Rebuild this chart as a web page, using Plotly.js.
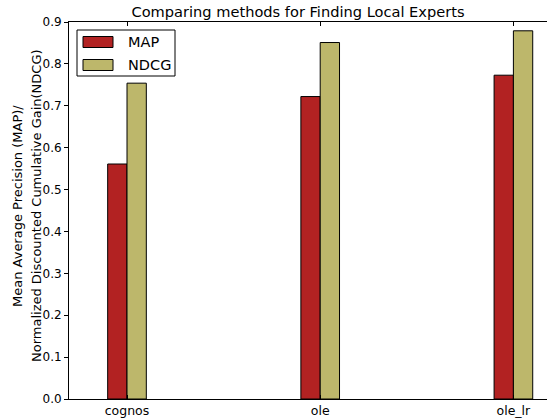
<!DOCTYPE html>
<html>
<head>
<meta charset="utf-8">
<script src="https://cdn.plot.ly/plotly-3.0.1.min.js"></script>
<style>
  html, body { margin: 0; padding: 0; background: #fff; }
  #chart { width: 547px; height: 418px; }
</style>
</head>
<body>
<div id="chart"></div>
<script>
// Methods compared and their scores
const methods = ['cognos', 'ole', 'ole_lr'];
const mapScores = [0.561, 0.722, 0.773];
const ndcgScores = [0.754, 0.851, 0.879];
const seriesNames = ['MAP', 'NDCG'];
const yTicks = [0, 0.1, 0.2, 0.3, 0.4, 0.5, 0.6, 0.7, 0.8, 0.9];
const yTitleLines = ['Mean Average Precision (MAP)/', 'Normalized Discounted Cumulative Gain(NDCG)'];

const colors = ['#b22222', '#bdb76b'];
const W = 547, H = 418;
const M = { l: 69, r: 0, t: 22, b: 19 };
const plotW = W - M.l - M.r, plotH = H - M.t - M.b;
const px = x => (x - M.l) / plotW;          // pixel -> paper x
const py = y => (H - M.b - y) / plotH;       // pixel -> paper y

const idx = methods.map((_, i) => i);
const barW = 0.1;
const font = 'DejaVu Sans, sans-serif';

const traces = [mapScores, ndcgScores].map((vals, k) => ({
  type: 'bar',
  name: seriesNames[k],
  x: idx,
  y: vals,
  width: barW,
  offset: (k - 1) * barW,
  marker: { color: colors[k], line: { color: '#000', width: 1 } },
  showlegend: false,
  hoverinfo: 'x+y'
}));

// Legend box drawn as shapes + labels
const legBox = { x0: 77, x1: 175, y0: 30, y1: 76 };
const rowY = [42, 65];
const shapes = [{
  type: 'rect', xref: 'paper', yref: 'paper',
  x0: px(legBox.x0), x1: px(legBox.x1), y0: py(legBox.y1), y1: py(legBox.y0),
  line: { color: '#000', width: 1 }, fillcolor: '#fff', layer: 'above'
}];
const annotations = [];
seriesNames.forEach((name, k) => {
  shapes.push({
    type: 'rect', xref: 'paper', yref: 'paper',
    x0: px(83), x1: px(113), y0: py(rowY[k] + 5.5), y1: py(rowY[k] - 5.5),
    line: { color: '#000', width: 1 }, fillcolor: colors[k], layer: 'above'
  });
  annotations.push({
    xref: 'paper', yref: 'paper', x: px(126), y: py(rowY[k]),
    xanchor: 'left', yanchor: 'middle', showarrow: false,
    text: name, font: { family: font, size: 14.5, color: '#000' }
  });
});

// Two-line y-axis title, one annotation per line
const yTitleX = [18, 37];
yTitleLines.forEach((line, k) => {
  annotations.push({
    xref: 'paper', yref: 'paper', x: px(yTitleX[k]), y: py(206),
    xanchor: 'center', yanchor: 'middle', showarrow: false, textangle: -90,
    text: line, font: { family: font, size: 13, color: '#000' }
  });
});

const layout = {
  width: W, height: H,
  margin: M,
  paper_bgcolor: '#fff', plot_bgcolor: '#fff',
  font: { family: font, color: '#000' },
  title: {
    text: 'Comparing methods for Finding Local Experts',
    font: { family: font, size: 14.6, color: '#000' },
    x: 298 / W, xanchor: 'center', y: 1 - 12 / H, yanchor: 'middle'
  },
  xaxis: {
    range: [(M.l - 127) / 193.2, (W - 127) / 193.2],
    tickvals: idx, ticktext: methods,
    ticks: 'inside', ticklen: 4, tickcolor: '#000',
    showline: true, linecolor: '#000', linewidth: 1, mirror: 'ticks',
    showgrid: false, zeroline: false,
    tickfont: { family: font, size: 12.5, color: '#000' }
  },
  yaxis: {
    range: [0, 0.9],
    tickvals: yTicks, tickformat: '.1f',
    ticks: 'outside', ticklen: 4, tickcolor: '#000',
    showline: true, linecolor: '#000', linewidth: 1,
    showgrid: false, zeroline: false,
    tickfont: { family: font, size: 12, color: '#000' }
  },
  shapes: shapes,
  annotations: annotations,
  bargap: 0
};

Plotly.newPlot('chart', traces, layout, { displayModeBar: false, staticPlot: true });
</script>
</body>
</html>
